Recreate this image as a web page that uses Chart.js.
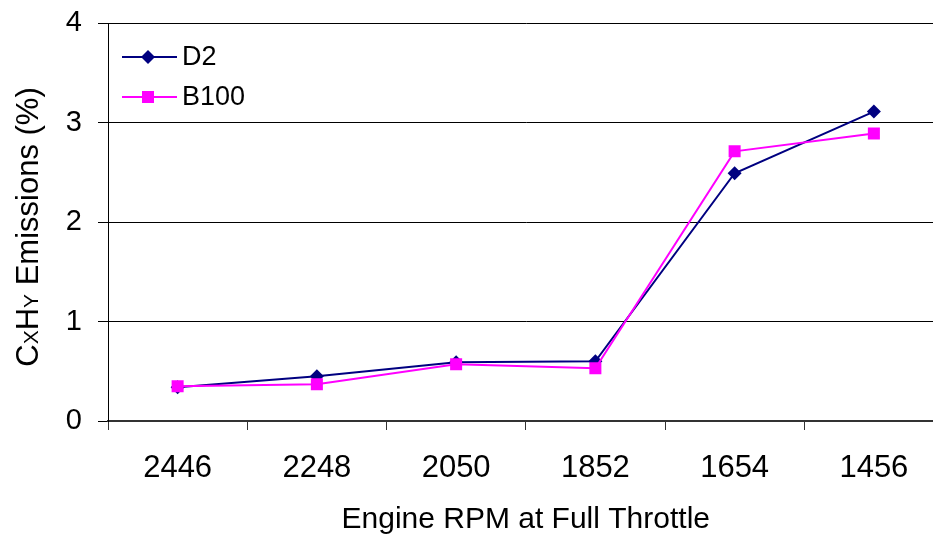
<!DOCTYPE html>
<html>
<head>
<meta charset="utf-8">
<script src="https://cdn.jsdelivr.net/npm/chart.js@4.4.1/dist/chart.umd.min.js"></script>
<style>
  html, body { margin: 0; padding: 0; background: #fff; overflow: hidden; }
  #wrap { position: absolute; left: 0; top: 0; width: 933px; height: 536px; overflow: hidden; }
</style>
</head>
<body>
<div id="wrap"><canvas id="chart" width="952" height="536"></canvas></div>
<script>
// === Data ===
const rpmLabels = ["2446", "2248", "2050", "1852", "1654", "1456"];
const d2Values = [0.34, 0.45, 0.59, 0.60, 2.49, 3.11];
const b100Values = [0.35, 0.37, 0.57, 0.53, 2.71, 2.89];
const yTicks = [0, 1, 2, 3, 4];

const FONT = "'Liberation Sans', Arial, sans-serif";
const navy = "#000080";
const magenta = "#ff00ff";

// === Legend + y title drawn inside the canvas ===
const extras = {
  id: "extras",
  afterDraw(chart) {
    const ctx = chart.ctx;
    ctx.save();

    // legend
    const items = [
      { label: "D2", color: navy, shape: "diamond", y: 57 },
      { label: "B100", color: magenta, shape: "square", y: 97 },
    ];
    items.forEach((it) => {
      ctx.strokeStyle = it.color;
      ctx.fillStyle = it.color;
      ctx.lineWidth = 2;
      ctx.beginPath();
      ctx.moveTo(122, it.y);
      ctx.lineTo(177, it.y);
      ctx.stroke();
      ctx.beginPath();
      if (it.shape === "diamond") {
        ctx.moveTo(148, it.y - 7);
        ctx.lineTo(155, it.y);
        ctx.lineTo(148, it.y + 7);
        ctx.lineTo(141, it.y);
        ctx.closePath();
      } else {
        ctx.rect(142, it.y - 6, 12, 12);
      }
      ctx.fill();
      ctx.fillStyle = "#000";
      ctx.font = "27px " + FONT;
      ctx.textAlign = "left";
      ctx.textBaseline = "middle";
      ctx.fillText(it.label, 182, it.y + 1);
    });

    // y axis title with small-caps X and Y
    const parts = [
      { t: "C", s: 31 },
      { t: "X", s: 21 },
      { t: "H", s: 31 },
      { t: "Y", s: 21 },
      { t: " Emissions (%)", s: 31 },
    ];
    let total = 0;
    parts.forEach((p) => {
      ctx.font = p.s + "px " + FONT;
      p.w = ctx.measureText(p.t).width;
      total += p.w;
    });
    ctx.translate(38, 227);
    ctx.rotate(-Math.PI / 2);
    ctx.textBaseline = "alphabetic";
    ctx.textAlign = "left";
    ctx.fillStyle = "#000";
    let x = -total / 2;
    parts.forEach((p) => {
      ctx.font = p.s + "px " + FONT;
      ctx.fillText(p.t, x, 0);
      x += p.w;
    });
    ctx.restore();
  },
};

const ctx = document.getElementById("chart").getContext("2d");
new Chart(ctx, {
  type: "line",
  data: {
    labels: rpmLabels,
    datasets: [
      {
        label: "B100",
        data: b100Values,
        borderColor: magenta,
        backgroundColor: magenta,
        borderWidth: 2,
        pointStyle: "rect",
        pointRadius: 8.5,
        pointHoverRadius: 8.5,
        pointBorderWidth: 0,
        tension: 0,
        order: 0,
      },
      {
        label: "D2",
        data: d2Values,
        borderColor: navy,
        backgroundColor: navy,
        borderWidth: 2,
        pointStyle: "rectRot",
        pointRadius: 7,
        pointHoverRadius: 7,
        pointBorderWidth: 0,
        tension: 0,
        order: 1,
      },
    ],
  },
  options: {
    responsive: false,
    animation: false,
    layout: { padding: { top: 23, left: 0, right: 0, bottom: 0 } },
    plugins: {
      legend: { display: false },
      tooltip: { enabled: false },
    },
    scales: {
      x: {
        offset: true,
        grid: {
          offset: true,
          drawOnChartArea: false,
          drawTicks: true,
          tickLength: 9,
          color: "#333",
        },
        border: { color: "#333", width: 2 },
        ticks: {
          color: "#000",
          font: { family: FONT, size: 31 },
          padding: 20,
          maxRotation: 0,
        },
        title: {
          display: true,
          text: "Engine RPM at Full Throttle",
          color: "#000",
          font: { family: FONT, size: 30 },
          padding: { top: 4, bottom: -2 },
        },
        afterFit: (scale) => { scale.height = 115; },
      },
      y: {
        min: 0,
        max: 4,
        afterBuildTicks: (scale) => { scale.ticks = yTicks.map((v) => ({ value: v })); },
        grid: {
          color: "#000",
          lineWidth: 1,
          tickLength: 10,
        },
        border: { color: "#000", width: 1 },
        ticks: {
          color: "#000",
          font: { family: FONT, size: 29 },
          padding: 16,
        },
        afterFit: (scale) => {
          scale.width = 108;
          scale.paddingTop = 0;
          scale.paddingBottom = 0;
        },
      },
    },
  },
  plugins: [extras],
});
</script>
</body>
</html>
